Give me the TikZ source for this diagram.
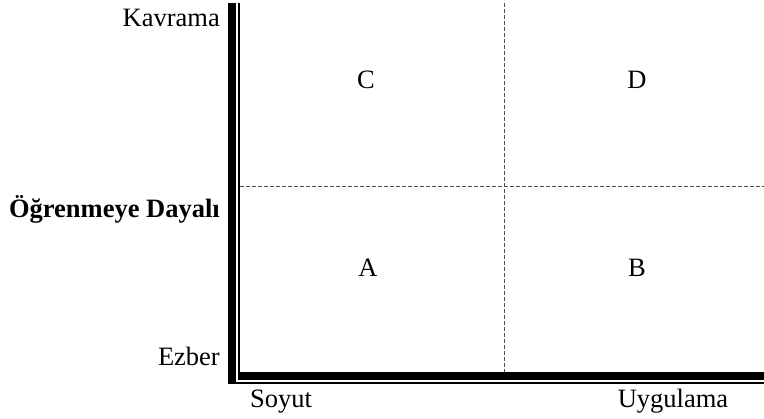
\documentclass[tikz,border=0pt]{standalone}
\usepackage{fontspec}
\setmainfont{Liberation Serif}
\usetikzlibrary{positioning}

\tikzset{
  lbl/.style={font=\fontsize{26.5}{30}\selectfont, inner sep=0pt},
  grid/.style={draw=black!70, line width=1pt, dash pattern=on 4pt off 2pt}
}

\begin{document}
\begin{tikzpicture}[x=1pt, y=-1pt]
\useasboundingbox (0,0) rectangle (764,419);

% quadrant lines
\draw[grid] (504,3) -- (504,372);
\draw[grid] (240,187) -- (764,187);

% axes (thick-thin border)
\fill (228,3) rectangle (236,384);
\fill (228,382) rectangle (764,384);
\fill (237.5,3) rectangle (240,380.5);
\fill (237.5,372) rectangle (764,380.5);

% axis labels
\node[lbl, anchor=base east] (kavrama) at (220,27) {Kavrama};
\node[lbl, anchor=base east, font=\fontsize{26.5}{30}\selectfont\bfseries] (dayali) at (220,218) {Öğrenmeye Dayalı};
\node[lbl, anchor=base east] (ezber) at (220,366) {Ezber};
\node[lbl, anchor=base] (soyut) at (281,408) {Soyut};
\node[lbl, anchor=base] (uygulama) at (673,408) {Uygulama};

% quadrants
\node[lbl, anchor=base] (qc) at (366,89) {C};
\node[lbl, anchor=base] (qd) at (637,89) {D};
\node[lbl, anchor=base] (qa) at (368,277) {A};
\node[lbl, anchor=base] (qb) at (637,277) {B};

\end{tikzpicture}
\end{document}
